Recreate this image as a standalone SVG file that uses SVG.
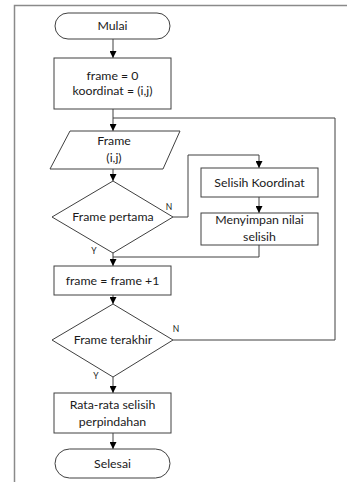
<svg xmlns="http://www.w3.org/2000/svg" width="347" height="482" viewBox="0 0 347 482">
<style>
.s{fill:#fff;stroke:#404040;stroke-width:1}
.c{fill:none;stroke:#404040;stroke-width:1}
.t{font-family:Lato,"Open Sans",sans-serif;font-size:12.3px;fill:#1a1a1a;text-anchor:middle}
.l{font-family:Lato,"Open Sans",sans-serif;font-size:8.5px;fill:#1a1a1a;text-anchor:middle}
</style>
<defs>
<marker id="a" viewBox="0 0 10 10" refX="10" refY="5" markerWidth="7" markerHeight="7" markerUnits="userSpaceOnUse" orient="auto">
<path d="M0,0 L10,5 L0,10 z" fill="#000"/>
</marker>
</defs>
<rect width="347" height="482" fill="#fff"/>
<path d="M14.5,482 V5.5 H347" fill="none" stroke="#8a8a8a" stroke-width="1.5"/>
<g id="connectors">
<path class="c" d="M113,39 V58" marker-end="url(#a)"/>
<path class="c" d="M113,109 V131" marker-end="url(#a)"/>
<path class="c" d="M173,340 H335 V118 H113"/>
<path class="c" d="M113,169 V181" marker-end="url(#a)"/>
<path class="c" d="M173,217 H188 V155 H259 V168" marker-end="url(#a)"/>
<path class="c" d="M259,197 V213" marker-end="url(#a)"/>
<path class="c" d="M259,245 V257 H113"/>
<path class="c" d="M113,253 V266" marker-end="url(#a)"/>
<path class="c" d="M113,295 V304" marker-end="url(#a)"/>
<path class="c" d="M113,377 V393" marker-end="url(#a)"/>
<path class="c" d="M113,433 V449" marker-end="url(#a)"/>
<text class="l" x="169" y="210">N</text>
<text class="l" x="94" y="254">Y</text>
<text class="l" x="176" y="332">N</text>
<text class="l" x="96" y="379">Y</text>
</g>
<g id="mulai">
<rect class="s" x="55" y="13" width="115" height="26" rx="13"/>
<text class="t" x="112.5" y="30">Mulai</text>
</g>
<g id="init">
<rect class="s" x="54" y="58" width="117" height="51"/>
<text class="t" x="112.5" y="80">frame = 0</text>
<text class="t" x="112.5" y="95">koordinat = (i,j)</text>
</g>
<g id="input">
<polygon class="s" points="70,131 180,131 163,169 50,169"/>
<text class="t" x="114" y="145">Frame</text>
<text class="t" x="114" y="162">(i,j)</text>
</g>
<g id="d1">
<polygon class="s" points="113,181 173,217 113,253 52,217"/>
<text class="t" x="113" y="221">Frame pertama</text>
</g>
<g id="selisih">
<rect class="s" x="201" y="168" width="117" height="29"/>
<text class="t" x="259.5" y="187">Selisih Koordinat</text>
</g>
<g id="simpan">
<rect class="s" x="201" y="213" width="117" height="32"/>
<text class="t" x="259.5" y="224">Menyimpan nilai</text>
<text class="t" x="259.5" y="241">selisih</text>
</g>
<g id="inc">
<rect class="s" x="54" y="266" width="117" height="29"/>
<text class="t" x="112.5" y="285">frame = frame +1</text>
</g>
<g id="d2">
<polygon class="s" points="113,304 173,340 113,377 52,340"/>
<text class="t" x="113" y="344">Frame terakhir</text>
</g>
<g id="rata">
<rect class="s" x="54" y="393" width="117" height="40"/>
<text class="t" x="112.5" y="409">Rata-rata selisih</text>
<text class="t" x="112.5" y="426">perpindahan</text>
</g>
<g id="selesai">
<rect class="s" x="55" y="449" width="115" height="29" rx="14.5"/>
<text class="t" x="112.5" y="468">Selesai</text>
</g>
</svg>
